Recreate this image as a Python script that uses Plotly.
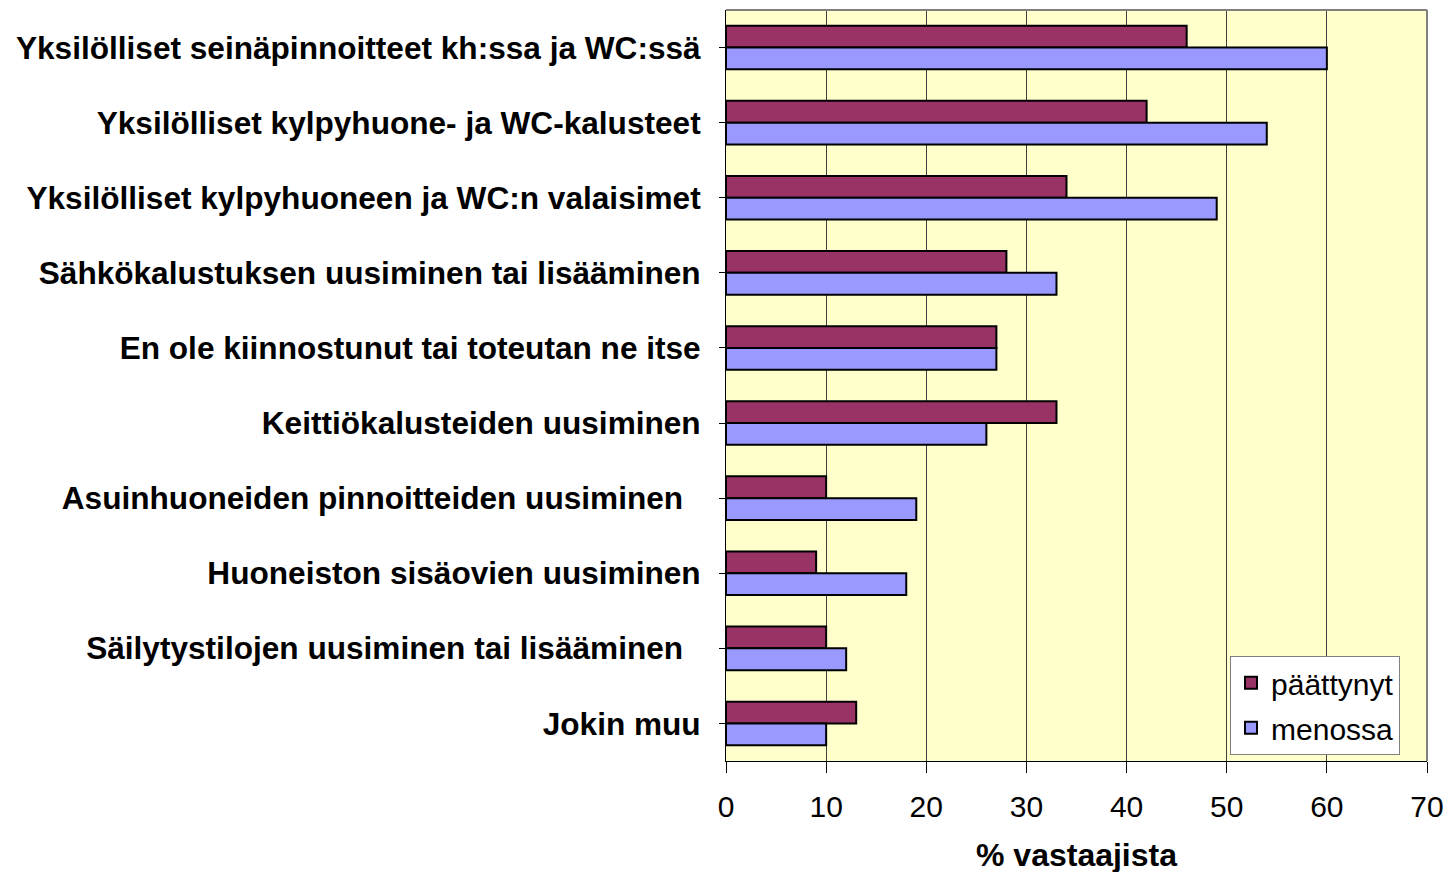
import plotly.graph_objects as go

categories = [
    "Yksilölliset seinäpinnoitteet kh:ssa ja WC:ssä",
    "Yksilölliset kylpyhuone- ja WC-kalusteet",
    "Yksilölliset kylpyhuoneen ja WC:n valaisimet",
    "Sähkökalustuksen uusiminen tai lisääminen",
    "En ole kiinnostunut tai toteutan ne itse",
    "Keittiökalusteiden uusiminen",
    "Asuinhuoneiden pinnoitteiden uusiminen\u00a0\u00a0",
    "Huoneiston sisäovien uusiminen",
    "Säilytystilojen uusiminen tai lisääminen\u00a0\u00a0",
    "Jokin muu",
]
paattynyt = [46, 42, 34, 28, 27, 33, 10, 9, 10, 13]
menossa = [60, 54, 49, 33, 27, 26, 19, 18, 12, 10]
x_ticks = [0, 10, 20, 30, 40, 50, 60, 70]

FONT = "Liberation Sans, Arial, sans-serif"

fig = go.Figure()
fig.add_trace(go.Bar(
    y=categories, x=paattynyt, orientation="h", name="päättynyt",
    marker=dict(color="#993366", line=dict(color="black", width=2)),
    legendgroup="a",
))
fig.add_trace(go.Bar(
    y=categories, x=menossa, orientation="h", name="menossa",
    marker=dict(color="#9999FF", line=dict(color="black", width=2)),
    legendgroup="b",
))

fig.update_layout(
    width=1456, height=872,
    margin=dict(l=718, r=37, t=2, b=119),
    paper_bgcolor="white",
    plot_bgcolor="#FFFFCC",
    barmode="group",
    bargap=0.42,
    bargroupgap=0,
    font=dict(family=FONT, color="black", size=30),
    legend=dict(
        x=0.719, y=0.14, xanchor="left", yanchor="top",
        bgcolor="white", bordercolor="#808080", borderwidth=1,
        font=dict(size=30, family=FONT),
        traceorder="grouped", tracegroupgap=3,
    ),
    showlegend=True,
)

fig.update_xaxes(
    range=[0, 70], tickvals=x_ticks, ticktext=[str(v) for v in x_ticks],
    showgrid=True, gridcolor="#404040", gridwidth=1,
    ticks="outside", ticklen=11, tickcolor="black",
    showline=True, linecolor="black", linewidth=1,
    mirror=False, zeroline=False, automargin=False,
    tickfont=dict(size=30, family=FONT),
    ticklabelstandoff=8,
    title=dict(text="% vastaajista", font=dict(size=32, family=FONT, weight="bold"), standoff=21),
)
fig.update_yaxes(
    autorange="reversed", automargin=False,
    ticks="outside", ticklen=6, tickcolor="black",
    showline=True, linecolor="black", linewidth=1,
    tickfont=dict(size=31.6, family=FONT, weight="bold"),
    ticklabelstandoff=12,
    showgrid=False,
)

# gray border on top and right of the plot area
fig.add_shape(type="line", xref="paper", yref="paper", x0=0, x1=1, y0=1, y1=1,
              line=dict(color="#808080", width=2))
fig.add_shape(type="line", xref="paper", yref="paper", x0=1, x1=1, y0=0, y1=1,
              line=dict(color="#808080", width=2))

fig.write_html("out.html")
